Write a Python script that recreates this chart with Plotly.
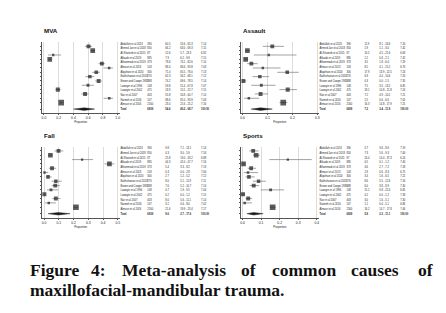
import math
import plotly.graph_objects as go

# ---------------- data ----------------
studies = ["Abdullah et al 2013", "Ahmed Jan et al 2018", "Al-Khateeb et al 2015", "Alkaabi et al 2019",
           "Alhammadi et al 2019", "Almasri et al 2013", "Alqahtani et al 2020", "Bakhshaeian et al 2018",
           "Brown and Cowpe 1985", "Lawoyin et al 1996", "Lawoyin et al 2002", "Nair et al 2007",
           "Naimeh et al 2016", "Almasri et al 2016"]
sample_size = [390, 850, 87, 885, 373, 103, 300, 270, 388, 148, 475, 403, 107, 2160]

mva_prop = [60.5, 66.2, 12.6, 7.9, 78.6, 88.4, 71.0, 62.3, 74.2, 59.8, 18.9, 55.8, 88.6, 23.4]
mva_lo = [55.6, 63.0, 5.7, 6.2, 74.1, 80.6, 65.5, 56.2, 69.6, 51.4, 15.5, 50.8, 81.0, 21.6]
mva_hi = [65.3, 69.3, 23.3, 9.9, 82.6, 93.8, 76.0, 68.1, 78.5, 67.8, 22.7, 60.7, 93.9, 25.2]
mva_weight = [7.14, 7.15, 6.92, 7.15, 7.14, 7.03, 7.13, 7.12, 7.14, 7.07, 7.15, 7.14, 7.03, 7.16]
mva_total = [54.6, 40.2, 68.7]
mva_het = "Heterogeneity I²=98.8%, P=0.416 for Egger's regression intercept"

fall_prop = [9.8, 4.3, 25.8, 44.3, 5.4, 0.3, 2.7, 8.0, 7.6, 4.7, 0.2, 8.0, 3.2, 21.6]
fall_lo = [7.1, 3.0, 19.0, 41.0, 3.3, 0.0, 1.2, 5.1, 5.2, 1.9, 0.0, 5.6, 0.6, 19.9]
fall_hi = [13.1, 5.9, 33.2, 47.7, 8.2, 2.8, 5.2, 11.9, 10.7, 9.5, 1.2, 11.1, 8.0, 23.4]
fall_weight = [7.14, 7.16, 6.88, 7.16, 7.13, 7.00, 7.12, 7.11, 7.14, 7.04, 7.15, 7.14, 7.02, 7.17]
fall_total = [9.6, 2.7, 17.6]
fall_het = "Heterogeneity I²=98.9%, P=0.352 for Egger's regression intercept"

assault_prop = [11.9, 1.9, 10.5, 1.2, 3.5, 8.1, 17.9, 6.9, 0.3, 7.5, 18.1, 7.2, 2.5, 16.3]
assault_lo = [8.1, 1.1, 4.5, 0.6, 1.8, 4.1, 13.9, 4.0, 0.0, 3.5, 14.8, 4.9, 0.6, 14.8]
assault_hi = [16.6, 3.0, 21.6, 2.1, 6.0, 15.2, 22.5, 10.6, 1.5, 13.2, 21.8, 10.2, 6.6, 17.9]
assault_weight = [7.16, 7.42, 6.63, 7.42, 7.29, 6.70, 7.24, 7.20, 7.35, 6.85, 7.24, 7.21, 7.05, 7.25]
assault_total = [7.2, 3.4, 11.9]
assault_het = "Heterogeneity I²=97.6%, P=0.638 for Egger's regression intercept"

sports_prop = [5.7, 7.3, 24.4, 0.5, 4.6, 2.9, 3.4, 8.6, 6.0, 15.1, 0.2, 3.0, 1.1, 16.2]
sports_lo = [3.6, 5.6, 14.4, 0.1, 2.7, 0.6, 1.6, 5.5, 3.8, 9.8, 0.0, 1.6, 0.0, 14.7]
sports_hi = [8.6, 9.3, 37.3, 1.2, 7.2, 8.3, 6.5, 12.6, 8.9, 22.4, 1.2, 5.1, 5.1, 17.8]
sports_weight = [7.19, 7.40, 6.24, 7.40, 7.28, 6.75, 7.22, 7.16, 7.30, 6.85, 7.33, 7.30, 6.86, 7.46]
sports_total = [5.9, 2.3, 11.1]
sports_het = "Heterogeneity I²=97.9%, P=0.508 for Egger's regression intercept"

titles = ["MVA", "Fall", "Assault", "Sports"]
header = ["Author_year", "Sample size", "Proportion<br>(%)", "95% CI", "Weight<br>(%)"]
caption_line1 = ["Figure", "4:", "Meta-analysis", "of", "common", "causes", "of"]
caption_line2 = "maxillofacial-mandibular trauma."

# ---------------- layout helpers ----------------
W, H = 446, 313
def px(x):
    return x / W
def py(y):
    return 1 - y / H

panels = [
    dict(title=titles[0], prop=mva_prop, lo=mva_lo, hi=mva_hi, w=mva_weight, tot=mva_total, het=mva_het,
         x0=33, y0=0, rng=[-0.028, 1.025], ticks=[0, 0.2, 0.4, 0.6, 0.8, 1.0]),
    dict(title=titles[1], prop=fall_prop, lo=fall_lo, hi=fall_hi, w=fall_weight, tot=fall_total, het=fall_het,
         x0=33, y0=104.6, rng=[-0.015, 0.5115], ticks=[0, 0.1, 0.2, 0.3, 0.4, 0.5]),
    dict(title=titles[2], prop=assault_prop, lo=assault_lo, hi=assault_hi, w=assault_weight, tot=assault_total,
         het=assault_het, x0=233, y0=0, rng=[-0.0068, 0.305], ticks=[0, 0.1, 0.2, 0.3]),
    dict(title=titles[3], prop=sports_prop, lo=sports_lo, hi=sports_hi, w=sports_weight, tot=sports_total,
         het=sports_het, x0=233, y0=104.6, rng=[-0.009, 0.41], ticks=[0, 0.1, 0.2, 0.3, 0.4]),
]

fig = go.Figure()
annotations = []
n_rows = len(studies)
rows = list(range(1, n_rows + 1))
total_row = n_rows + 1.5
tbl_cols = [0, 27, 45, 60, 81]
text_col = "#1e1e1e"
small = 2.6

for k, p in enumerate(panels):
    ia = k + 1
    it = k + 5
    xa, ya = f"x{ia}", f"y{ia}"
    xt, yt = f"x{it}", f"y{it}"
    top = 34 + p["y0"]
    bot = 105 + p["y0"]
    ydom = [py(bot), py(top)]

    # CI lines
    cx, cy = [], []
    for r, l, h in zip(rows, p["lo"], p["hi"]):
        cx += [l / 100, h / 100, None]
        cy += [r, r, None]
    fig.add_trace(go.Scatter(x=cx, y=cy, mode="lines", line=dict(color="#7a7a7a", width=0.7),
                             xaxis=xa, yaxis=ya, showlegend=False, hoverinfo="skip"))
    # study markers
    sizes = [max(2.0, 1.7 + 1.05 * math.log(n / 50)) for n in sample_size]
    fig.add_trace(go.Scatter(x=[v / 100 for v in p["prop"]], y=rows, mode="markers",
                             marker=dict(symbol="square", size=sizes, color="#1a1a1a", line=dict(width=0)),
                             xaxis=xa, yaxis=ya, showlegend=False))
    # pooled diamond
    est, l, h = [v / 100 for v in p["tot"]]
    dh = 0.3
    fig.add_trace(go.Scatter(x=[l, est, h, est, l], y=[total_row, total_row - dh, total_row, total_row + dh, total_row],
                             mode="lines", fill="toself", fillcolor="#1a1a1a", line=dict(color="#1a1a1a", width=0.4),
                             xaxis=xa, yaxis=ya, showlegend=False))

    # table text (own hidden axes)
    tx, ty, tt = [], [], []
    for ci, hd in enumerate(header):
        tx.append(tbl_cols[ci] - (1 if ci in (1, 2) else 0))
        ty.append(-0.45)
        tt.append(hd)
    for r in rows:
        i = r - 1
        vals = [studies[i], str(sample_size[i]), f"{p['prop'][i]:.1f}",
                f"{p['lo'][i]:.1f} - {p['hi'][i]:.1f}", f"{p['w'][i]:.2f}"]
        for ci, v in enumerate(vals):
            tx.append(tbl_cols[ci]); ty.append(r); tt.append(v)
    tot_vals = ["<b>Total</b>", f"<b>{sum(sample_size)}</b>", f"<b>{p['tot'][0]:.1f}</b>",
                f"<b>{p['tot'][1]:.1f} - {p['tot'][2]:.1f}</b>", "<b>100.00</b>"]
    for ci, v in enumerate(tot_vals):
        tx.append(tbl_cols[ci]); ty.append(n_rows + 1); tt.append(v)
    tx.append(0); ty.append(n_rows + 1.85); tt.append("<b>" + p["het"] + "</b>")
    fig.add_trace(go.Scatter(x=tx, y=ty, text=tt, mode="text", textposition="middle right",
                             textfont=dict(size=small, color=text_col, family="Liberation Sans"),
                             xaxis=xt, yaxis=yt, showlegend=False, hoverinfo="skip", cliponaxis=False))

    xdom = [px(p["x0"]), px(p["x0"] + 78)]
    tdom = [px(p["x0"] + 79), px(p["x0"] + 190)]
    axis_font = dict(size=3.4, color="#222222", family="Liberation Sans")
    fig.layout[f"xaxis{ia}"] = dict(domain=xdom, anchor=ya, range=p["rng"], tickvals=p["ticks"],
                                     ticktext=[f"{t:.1f}" for t in p["ticks"]], tickfont=axis_font,
                                     showgrid=True, gridcolor="#dcdcdc", gridwidth=0.6, zeroline=False,
                                     showline=True, linecolor="#555555", linewidth=0.6,
                                     ticks="outside", ticklen=1.5, tickwidth=0.5, tickcolor="#555555",
                                     title=dict(text="Proportion", font=dict(size=2.8, color="#222222"), standoff=1))
    fig.layout[f"yaxis{ia}"] = dict(domain=ydom, anchor=xa, range=[16.4, 0.0], tickvals=rows + [total_row],
                                     showticklabels=False, showgrid=False, zeroline=False,
                                     showline=True, linecolor="#555555", linewidth=0.6,
                                     ticks="outside", ticklen=1.5, tickwidth=0.5, tickcolor="#555555")
    fig.layout[f"xaxis{it}"] = dict(domain=tdom, anchor=yt, range=[0, 111], visible=False)
    fig.layout[f"yaxis{it}"] = dict(domain=ydom, anchor=xt, range=[15.77, 0.572], visible=False)

    annotations.append(dict(text="<b>" + p["title"] + "</b>", x=px(p["x0"] + 2), y=py(23 + p["y0"]),
                            xref="paper", yref="paper", xanchor="left", yanchor="middle", showarrow=False,
                            font=dict(size=6.2, color="#111111", family="Liberation Sans"),
                            borderpad=0, borderwidth=0))

# caption
cap_x = [20.7, 82.7, 114, 233, 264, 344, 410.7]
cap_font = dict(size=17.5, color="#111111", family="Liberation Serif")
for word, x in zip(caption_line1, cap_x):
    annotations.append(dict(text="<b>" + word + "</b>", x=px(x), y=py(261.5), xref="paper", yref="paper",
                            xanchor="left", yanchor="middle", showarrow=False, font=cap_font,
                            borderpad=0, borderwidth=0))
annotations.append(dict(text="<b>" + caption_line2 + "</b>", x=px(20.7), y=py(282), xref="paper", yref="paper",
                        xanchor="left", yanchor="middle", showarrow=False, font=cap_font,
                        borderpad=0, borderwidth=0))

fig.update_layout(width=W, height=H, margin=dict(l=0, r=0, t=0, b=0), paper_bgcolor="white",
                  plot_bgcolor="white", annotations=annotations, showlegend=False,
                  font=dict(family="Liberation Sans"))
fig.write_html("out.html")
